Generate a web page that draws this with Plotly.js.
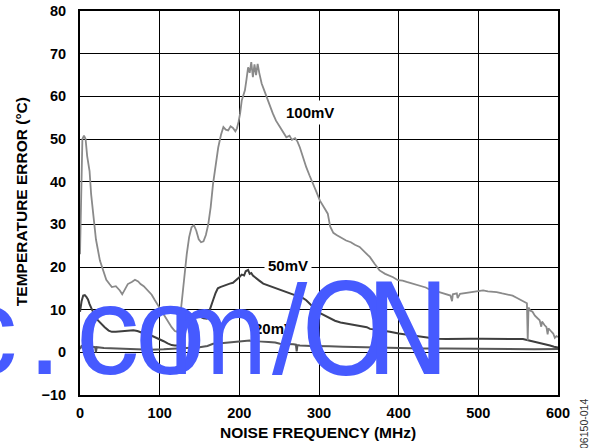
<!DOCTYPE html>
<html>
<head>
<meta charset="utf-8">
<script src="https://cdn.plot.ly/plotly-3.0.1.min.js"></script>
<style>
html,body{margin:0;padding:0;background:#fff;}
#chart{width:597px;height:448px;}
</style>
</head>
<body>
<div id="chart"></div>
<script>
// ---- data ----
var freq100 = [0,1,2,3,5,7,9,12,14,17,20,25,29,33,37,40,45,50,53,56,60,65,69,73,76,80,85,90,94,98,102,106,110,115,119,122,125,127.6,130,132,134,137,140,143,146,149,152,155,158,161,164,167,170,173.5,177,180,183,186,189,192,195,197,199,201,203,205,207,209,211,213,215,217,219,221,223,225,228,231,234,238,242,246,251,255,259,263,266,270,273,276,280,284,288,293,297,301,306,311,314,318,322,327,334,340,345,351,357,364,370,376,383,388,393,399,405,410,418,426,434,440,443,444,450,455,460,465,467,468,473,474,477,485,493,500,506,512,518,523,530,537,543,548,553,558,561,562,563,565,568,571,574,577,579,580,583,585.5,587,588,591,594,596,598,600];
var temp100 = [23,35,44,50,50.8,50,46,42.5,37,31,26.5,21.5,19,17,16,15.3,15.5,14.5,13.6,14.8,16,16.5,17,16.6,16,15.5,14.5,13.5,12.2,11,9.8,8.5,7.2,5.9,5,4.8,7,11.5,16,20,23,27,29.3,29.8,28.5,26.5,25.8,26,27.5,30,34,39.5,44,48,51,52.8,52.2,52,53,52.6,51.8,52.5,54,56,59,60,61.4,64,66.8,65.5,68,64.5,67.5,65,67.6,65.5,63,61.5,59.8,58,56,54.3,52.8,51.5,50.4,50.8,49.8,50.2,49.4,48,45.5,43.4,41.5,39.5,37.5,35.6,34,32.5,29.5,28,27.5,27,26.2,25.8,25.2,24.7,23.5,22.3,20.7,19.2,18.4,18,17.6,16.9,16.8,16.5,16.1,15.7,15.2,14.6,12.2,14.5,14.2,13.9,13.7,13.3,12,13.6,13.8,12.7,13.7,13.9,14.1,14.3,14.5,14.3,14.2,14.1,13.8,13.6,13.3,12.8,12.3,11.8,11.5,2.8,10.5,9.8,9.5,8.6,8,7.5,6,7.2,6.4,5.9,4.2,5.6,5,4.4,3.4,3.8,3.6];

var freq50 = [0,2,4,6,8,10,12,15,18,22,26,31,36,40,45,50,55,60,67,72,78,84,90,95,100,105,110,115,119,123,126,128,131,134,138,143,147,151,155,159,162,165,167,170,173,176,180,184,188,192,196,200,203,206,208,211,213,215,217,220,225,230,236,242,248,254,259,265,270,276,280,284,288,292,297,302,308,314,320,327,335,343,351,360,364,372,380,389,400,414,425,435,447,460,475,489,505,520,531,545,556,565,573,582,590,595,600];
var temp50 = [9.5,12,13.3,13.4,13,12.4,11.3,10,8.8,7.6,6.8,5.9,5.1,4.8,4.8,4.9,4.9,5.1,5.2,5,4.6,4.4,3.9,3.5,3.2,2.6,2.1,1.7,1.6,1.6,2.4,3.6,5.5,7.5,8.2,8.4,8.2,8.3,8,7.9,9.5,11.5,12.2,13.8,15,15.3,15.6,15.8,16.1,16.3,16.9,17.6,18.2,18,19,19.3,18.4,18.6,18,17.5,16.8,16.1,15.7,15.3,14.9,14.5,14.1,13.8,13.4,13,12.7,12.2,11.4,10.6,9.8,9.1,8.5,7.9,7.4,7,6.7,6.4,6.1,5.9,5.5,5.3,5,4.8,4.4,4,3.7,3.5,3.2,3.1,3.2,3.2,3.2,3.2,3.2,3.1,3.1,2.7,2.4,2,1.6,1.3,1.1];

var freq20 = [0,2,5,10,15,19,20,21,30,40,55,70,88,105,121,135,150,160,167,180,192,203,213,224,234,245,251,260,268,271,272,273,276,290,300,313,330,350,376,400,430,460,500,544,570,600];
var temp20 = [0.8,1.5,1.6,1.4,1.3,1.2,0,1.2,1,0.9,0.8,0.7,0.6,0.7,0.9,1,1.2,1.5,2,2.2,2.4,2.6,2.8,2.6,2.4,2.3,2,2,1.9,1.8,0.2,1.7,1.6,1.5,1.5,1.4,1.3,1.2,1,1,0.9,0.9,0.8,0.7,0.7,0.8];

var seriesNames = ['100mV','50mV','20mV'];
var labelX = [288.6, 261, 243.5];
var labelY = [56.2, 20.4, 5.7];

var xTickVals = [0,100,200,300,400,500,600];
var yTickVals = [-10,0,10,20,30,40,50,60,70,80];
var yTickText = ['\u221210','0','10','20','30','40','50','60','70','80'];

var xTitle = 'NOISE FREQUENCY (MHz)';
var yTitle = 'TEMPERATURE ERROR (\u00B0C)';
var figureId = '06150-014';
var watermarkChars = ['c','.','c','o','m','/','O','N'];
// ---------------------------------------

var W_L = 80, W_T = 10.7, W_PW = 478, W_PH = 384.3;
function px2paperX(p){ return (p - W_L) / W_PW; }
function px2paperY(p){ return (W_T + W_PH - p) / W_PH; }

var lineColors = ['#8a8a8a','#3e3e3e','#575757'];
var lineWidths = [1.8, 2, 2];

var traces = [
  {x: freq100, y: temp100, name: seriesNames[0]},
  {x: freq50,  y: temp50,  name: seriesNames[1]},
  {x: freq20,  y: temp20,  name: seriesNames[2]}
].map(function(t,i){
  t.type = 'scatter'; t.mode = 'lines';
  t.line = {color: lineColors[i], width: lineWidths[i], shape: 'linear'};
  t.hoverinfo = 'skip';
  return t;
});
// draw order: 20mV, 50mV, 100mV
traces = [traces[2], traces[1], traces[0]];

var annotations = [];
for (var i = 0; i < seriesNames.length; i++) {
  annotations.push({
    x: labelX[i], y: labelY[i], xref: 'x', yref: 'y',
    text: seriesNames[i], showarrow: false,
    font: {family: 'Liberation Sans, Arial, sans-serif', size: 15, color: '#000', weight: 'bold'},
    bgcolor: '#ffffff', borderpad: 3,
    xanchor: 'center', yanchor: 'middle'
  });
}
annotations.push({
  x: px2paperX(318), y: px2paperY(433), xref: 'paper', yref: 'paper',
  text: xTitle, showarrow: false,
  font: {family: 'Liberation Sans, Arial, sans-serif', size: 15.5, color: '#000', weight: 'bold'},
  xanchor: 'center', yanchor: 'middle'
});
annotations.push({
  x: px2paperX(21), y: px2paperY(202), xref: 'paper', yref: 'paper',
  text: yTitle, showarrow: false, textangle: -90,
  font: {family: 'Liberation Sans, Arial, sans-serif', size: 15.5, color: '#000', weight: 'bold'},
  xanchor: 'center', yanchor: 'middle'
});
annotations.push({
  x: px2paperX(584), y: px2paperY(424), xref: 'paper', yref: 'paper',
  text: figureId, showarrow: false, textangle: -90,
  font: {family: 'Liberation Sans, Arial, sans-serif', size: 10.5, color: '#333'},
  xanchor: 'center', yanchor: 'middle'
});

// watermark overlay (drawn last so it sits on top)
var wmCenters = [-14, 44, 108, 170, 218, 290, 346, 407];
var wmSizes   = [127, 127, 127, 127, 116, 127, 127, 127];
var wmNarrow = [false,false,false,false,true,false,true,true];
for (var k = 0; k < watermarkChars.length; k++) {
  annotations.push({
    x: px2paperX(wmCenters[k]), y: px2paperY(330 + (127 - wmSizes[k]) * 0.35), xref: 'paper', yref: 'paper',
    text: watermarkChars[k], showarrow: false,
    font: {family: wmNarrow[k] ? 'Liberation Sans Narrow, DejaVu Sans Condensed, Arial Narrow, sans-serif' : 'Liberation Sans, Arial, sans-serif',
           size: wmSizes[k], color: '#465aff'},
    xanchor: 'center', yanchor: 'middle', borderpad: 0
  });
}

var axisCommon = {
  showgrid: true, gridcolor: '#000', gridwidth: 1,
  showline: true, linecolor: '#000', linewidth: 2, mirror: true,
  zeroline: false, fixedrange: true,
  ticks: 'outside', tickcolor: 'rgba(0,0,0,0)',
  tickfont: {family: 'Liberation Sans, Arial, sans-serif', size: 14.5, color: '#000', weight: 'bold'}
};

var layout = {
  width: 597, height: 448,
  margin: {l: W_L, r: 597 - W_L - W_PW, t: W_T, b: 448 - W_T - W_PH, pad: 0},
  paper_bgcolor: '#fff', plot_bgcolor: '#fff',
  showlegend: false,
  xaxis: Object.assign({}, axisCommon, {
    range: [0, 600], tickmode: 'array', tickvals: xTickVals,
    ticklen: 4
  }),
  yaxis: Object.assign({}, axisCommon, {
    range: [-10, 80], tickmode: 'array', tickvals: yTickVals, ticktext: yTickText,
    ticklen: 9
  }),
  annotations: annotations
};

Plotly.newPlot('chart', traces, layout, {displayModeBar: false, staticPlot: true});
</script>
</body>
</html>
